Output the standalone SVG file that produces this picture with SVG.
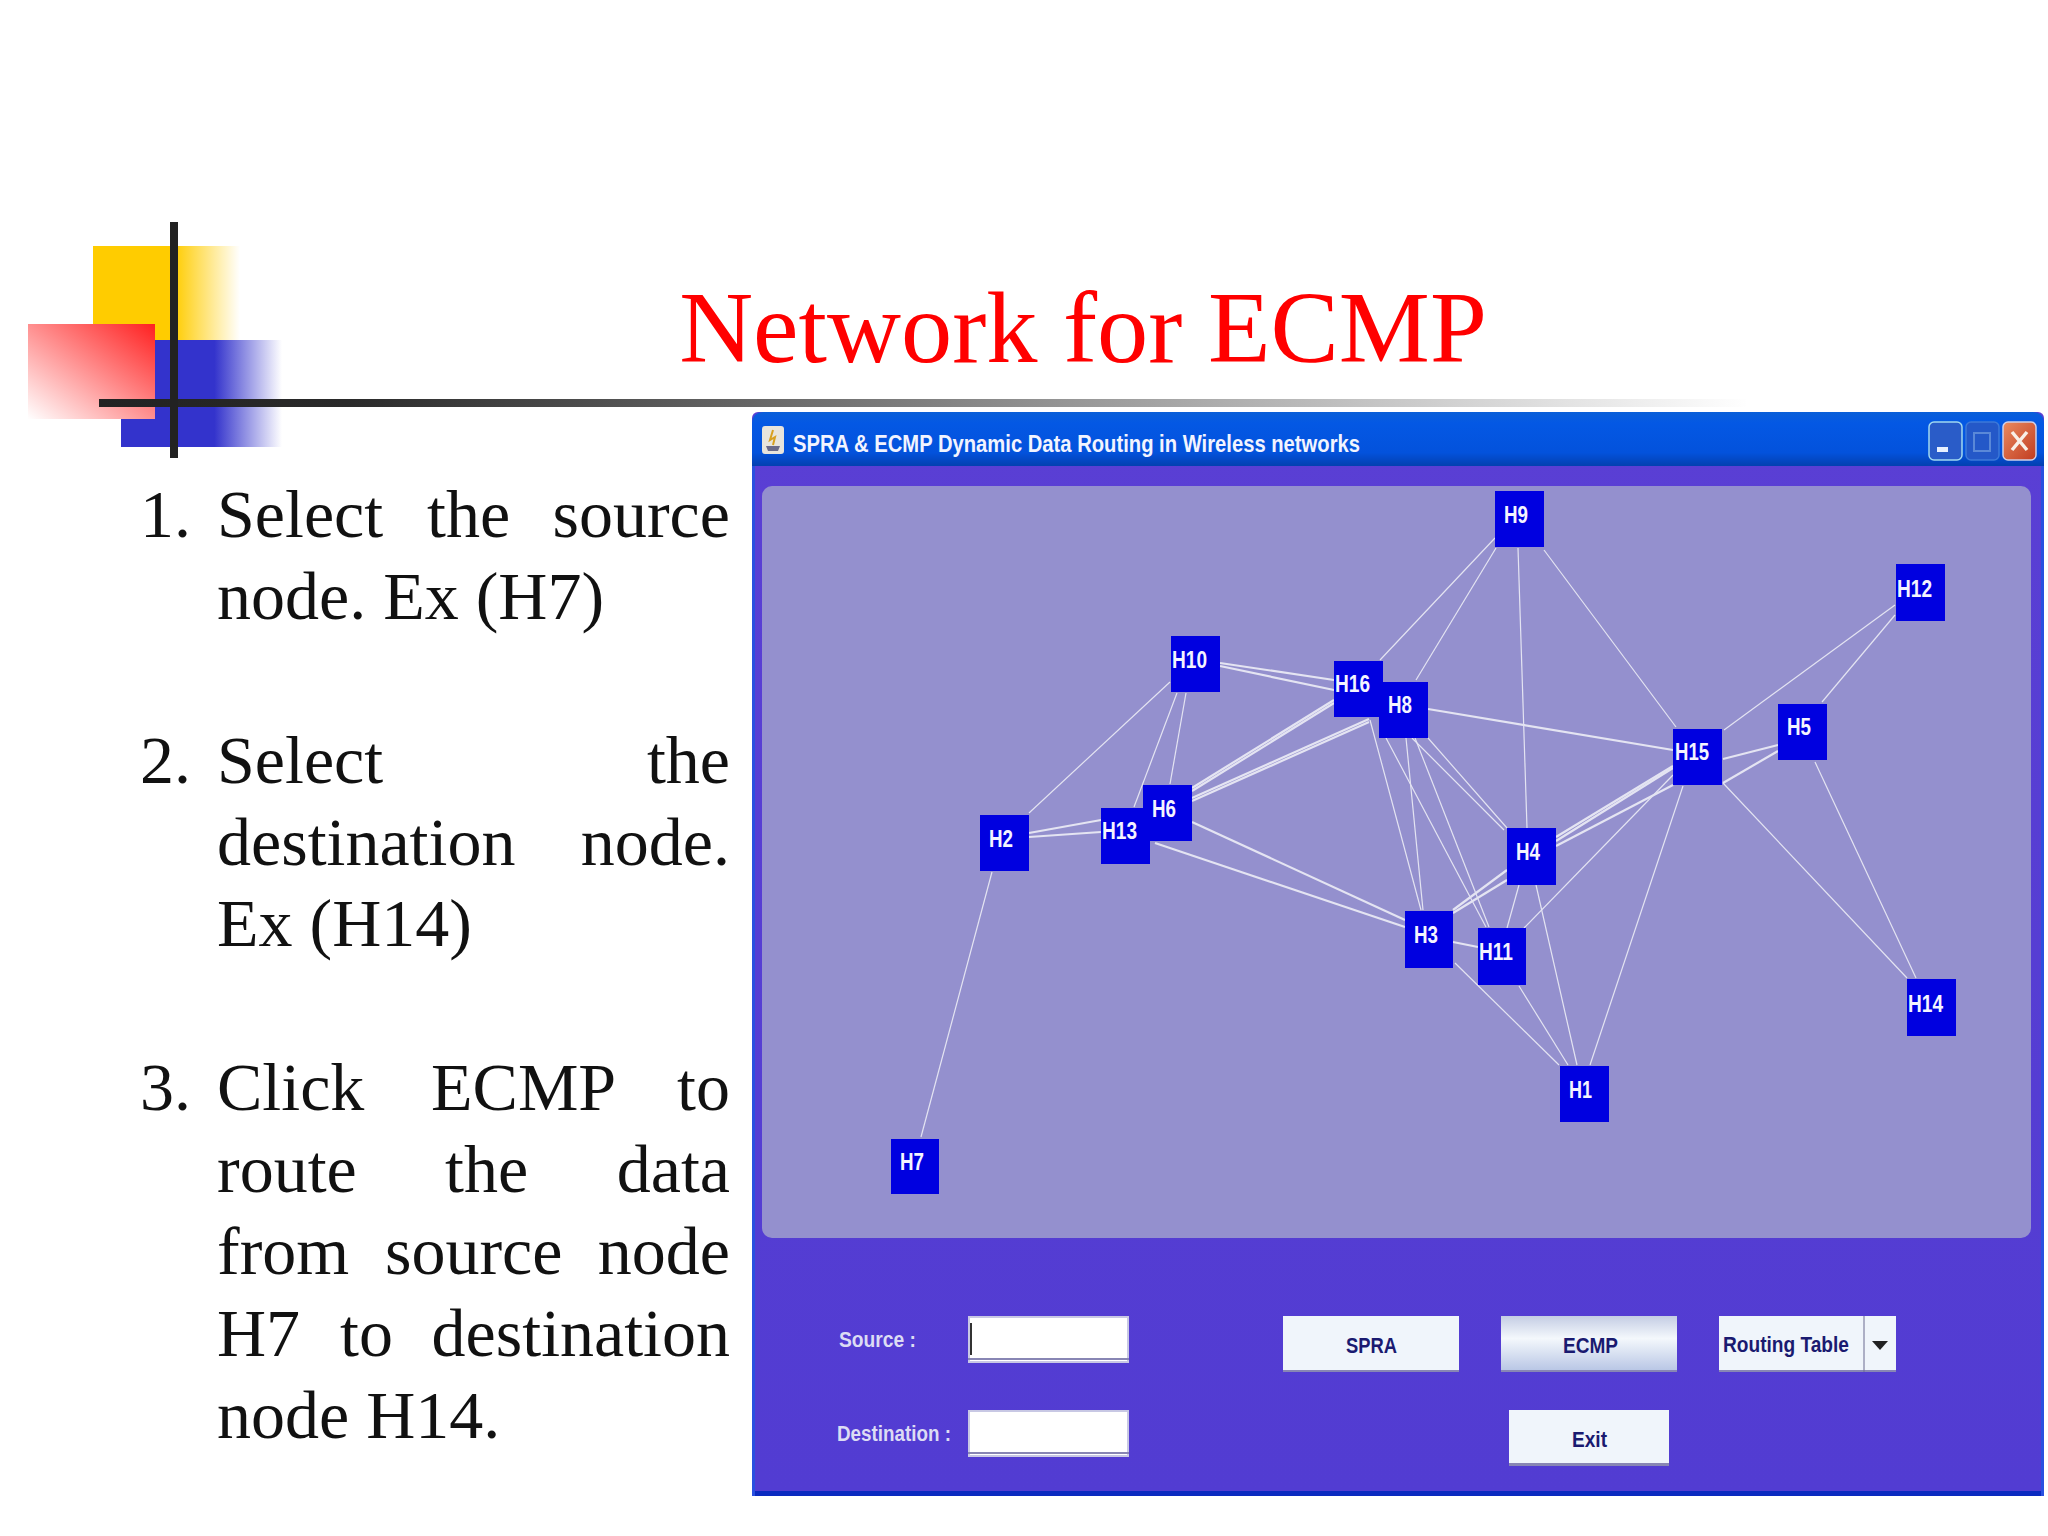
<svg xmlns="http://www.w3.org/2000/svg" width="2048" height="1536" viewBox="0 0 2048 1536">
<style>
.b{font-family:"Liberation Serif",serif;font-size:68px;fill:#111}
.n{fill:#0000e0}
.nt{font-family:"Liberation Sans",sans-serif;font-weight:bold;font-size:23px;fill:#f4f4ff}
.e line{stroke:#e4e4f2;stroke-width:1.2}
.e .w{stroke-width:2.2}
.ui{font-family:"Liberation Sans",sans-serif;font-weight:bold;font-size:22px}
.btn{fill:#f0f5fb}
.sh{fill:#8886b4}
.inp{fill:#fff;stroke:#c8c8e4;stroke-width:2}
</style>
<defs>
<linearGradient id="gy" x1="0" x2="1" y1="0" y2="0"><stop offset="0" stop-color="#ffcc00"/><stop offset="0.55" stop-color="#ffcc00"/><stop offset="1" stop-color="#ffcc00" stop-opacity="0"/></linearGradient>
<linearGradient id="gb" x1="0" x2="1" y1="0" y2="0"><stop offset="0" stop-color="#3333cc"/><stop offset="0.58" stop-color="#3333cc"/><stop offset="1" stop-color="#3333cc" stop-opacity="0"/></linearGradient>
<linearGradient id="gr" x1="1" x2="0" y1="0" y2="1"><stop offset="0" stop-color="#ff2020"/><stop offset="1" stop-color="#ffffff"/></linearGradient>
<linearGradient id="gl" x1="0" x2="1" y1="0" y2="0"><stop offset="0" stop-color="#222"/><stop offset="0.15" stop-color="#2a2a2a"/><stop offset="1" stop-color="#222" stop-opacity="0"/></linearGradient>
<linearGradient id="gt" x1="0" x2="0" y1="0" y2="1"><stop offset="0" stop-color="#0a5fd8"/><stop offset="0.2" stop-color="#0458e4"/><stop offset="0.75" stop-color="#0352dc"/><stop offset="1" stop-color="#0340b0"/></linearGradient>
<linearGradient id="gw" x1="0" x2="0" y1="0" y2="1"><stop offset="0" stop-color="#5a3fd4"/><stop offset="1" stop-color="#523cd2"/></linearGradient>
<linearGradient id="ge" x1="0" x2="0" y1="0" y2="1"><stop offset="0" stop-color="#c4cde4"/><stop offset="0.4" stop-color="#f4f8fc"/><stop offset="1" stop-color="#b6c4e4"/></linearGradient>
<linearGradient id="gc" x1="0" x2="1" y1="0" y2="1"><stop offset="0" stop-color="#e88a60"/><stop offset="1" stop-color="#c23c20"/></linearGradient>
</defs>
<rect width="2048" height="1536" fill="#fff"/>
<rect x="93" y="246" width="147" height="94" fill="url(#gy)"/>
<rect x="121" y="340" width="161" height="107" fill="url(#gb)"/>
<rect x="28" y="324" width="127" height="95" fill="url(#gr)"/>
<rect x="99" y="399" width="1650" height="8" fill="url(#gl)"/>
<rect x="170" y="222" width="8" height="236" fill="#222"/>
<text x="1083" y="362" text-anchor="middle" font-family="'Liberation Serif',serif" font-size="102.4" fill="#ff0000">Network for ECMP</text>
<g class="b">
<text x="140" y="537">1.</text><text x="217" y="537">Select</text><text x="427" y="537">the</text><text x="730" y="537" text-anchor="end">source</text>
<text x="217" y="619">node. Ex (H7)</text>
<text x="140" y="783">2.</text><text x="217" y="783">Select</text><text x="730" y="783" text-anchor="end">the</text>
<text x="217" y="865">destination</text><text x="730" y="865" text-anchor="end">node.</text>
<text x="217" y="946">Ex (H14)</text>
<text x="140" y="1110">3.</text><text x="217" y="1110">Click</text><text x="431" y="1110">ECMP</text><text x="730" y="1110" text-anchor="end">to</text>
<text x="217" y="1192">route</text><text x="445" y="1192">the</text><text x="730" y="1192" text-anchor="end">data</text>
<text x="217" y="1274">from</text><text x="385" y="1274">source</text><text x="730" y="1274" text-anchor="end">node</text>
<text x="217" y="1356">H7</text><text x="340" y="1356">to</text><text x="730" y="1356" text-anchor="end">destination</text>
<text x="217" y="1438">node H14.</text>
</g>
<g id="window">
<rect x="752" y="412" width="1292" height="1084" rx="6" fill="url(#gw)"/>
<path d="M752 466V424q0-12 12-12H2032q12 0 12 12V466Z" fill="url(#gt)"/>
<rect x="752" y="1491" width="1292" height="5" fill="#0a2ac0"/>
<rect x="752" y="466" width="3" height="1030" fill="#2a50e0"/>
<rect x="2041" y="466" width="3" height="1030" fill="#2a50e0"/>
<rect x="762" y="486" width="1269" height="752" rx="10" fill="#9490ce"/>
<rect x="762" y="426" width="22" height="28" rx="3" fill="#e8e4dc"/>
<path d="M773 430l-3 10 5-3-2 8" fill="none" stroke="#d8a020" stroke-width="2"/>
<path d="M766 446h14l-2 5h-10Z" fill="#6a6a8a"/>
<text x="793" y="452" textLength="567" lengthAdjust="spacingAndGlyphs" font-family="'Liberation Sans',sans-serif" font-weight="bold" font-size="24" fill="#f2f4ff">SPRA &amp; ECMP Dynamic Data Routing in Wireless networks</text>
<rect x="1929" y="422" width="33" height="38" rx="5" fill="#2a5cc8" stroke="#a0d8f0" stroke-width="1.5"/>
<rect x="1937" y="447" width="11" height="5" fill="#e8f0ff"/>
<rect x="1966" y="422" width="33" height="38" rx="5" fill="#2458c8" stroke="#3c78d8" stroke-width="1.5"/>
<rect x="1974" y="433" width="16" height="18" fill="none" stroke="#5a88d8" stroke-width="2"/>
<rect x="2003" y="422" width="33" height="38" rx="5" fill="url(#gc)" stroke="#d0d0e8" stroke-width="1.5"/>
<path d="M2012 432l15 18M2027 432l-15 18" stroke="#f8f0e8" stroke-width="3.5"/>
</g>
<g id="connectors" class="e">
<line x1="1029" y1="813" x2="1170" y2="682"/>
<line x1="1177" y1="693" x2="1134" y2="807"/>
<line x1="1186" y1="693" x2="1170" y2="784"/>
<line class="w" x1="1220" y1="663" x2="1334" y2="680"/>
<line class="w" x1="1220" y1="666" x2="1334" y2="690"/>
<line class="w" x1="1334" y1="700" x2="1192" y2="788"/>
<line class="w" x1="1334" y1="703" x2="1192" y2="791"/>
<line class="w" x1="1369" y1="719" x2="1192" y2="798"/>
<line class="w" x1="1369" y1="722" x2="1192" y2="801"/>
<line class="w" x1="1029" y1="833" x2="1101" y2="820"/>
<line class="w" x1="1029" y1="837" x2="1101" y2="832"/>
<line x1="992" y1="872" x2="921" y2="1137"/>
<line class="w" x1="1192" y1="822" x2="1405" y2="920"/>
<line class="w" x1="1155" y1="843" x2="1405" y2="927"/>
<line x1="1495" y1="538" x2="1380" y2="660"/>
<line x1="1496" y1="548" x2="1416" y2="680"/>
<line class="w" x1="1428" y1="709" x2="1673" y2="750"/>
<line x1="1518" y1="548" x2="1527" y2="828"/>
<line x1="1544" y1="550" x2="1676" y2="727"/>
<line x1="1724" y1="730" x2="1895" y2="605"/>
<line x1="1822" y1="702" x2="1895" y2="615"/>
<line class="w" x1="1723" y1="759" x2="1778" y2="745"/>
<line class="w" x1="1723" y1="783" x2="1778" y2="751"/>
<line class="w" x1="1673" y1="766" x2="1556" y2="837"/>
<line class="w" x1="1673" y1="768" x2="1556" y2="841"/>
<line class="w" x1="1673" y1="785" x2="1556" y2="846"/>
<line x1="1673" y1="775" x2="1524" y2="928"/>
<line x1="1683" y1="786" x2="1590" y2="1065"/>
<line x1="1723" y1="783" x2="1907" y2="978"/>
<line x1="1815" y1="762" x2="1916" y2="978"/>
<line x1="1428" y1="738" x2="1507" y2="828"/>
<line x1="1412" y1="738" x2="1504" y2="830"/>
<line x1="1415" y1="738" x2="1489" y2="927"/>
<line x1="1386" y1="738" x2="1486" y2="927"/>
<line x1="1370" y1="720" x2="1421" y2="910"/>
<line x1="1406" y1="738" x2="1423" y2="910"/>
<line class="w" x1="1507" y1="870" x2="1453" y2="910"/>
<line class="w" x1="1507" y1="880" x2="1453" y2="913"/>
<line x1="1519" y1="885" x2="1507" y2="928"/>
<line x1="1536" y1="885" x2="1577" y2="1065"/>
<line class="w" x1="1453" y1="942" x2="1478" y2="947"/>
<line x1="1455" y1="963" x2="1559" y2="1065"/>
<line x1="1519" y1="986" x2="1568" y2="1065"/>
</g>
<g id="H9"><rect class="n" x="1495" y="491" width="49" height="56"/><text class="nt" x="1504" y="523" textLength="24" lengthAdjust="spacingAndGlyphs">H9</text></g>
<g id="H12"><rect class="n" x="1896" y="564" width="49" height="57"/><text class="nt" x="1897" y="597" textLength="35" lengthAdjust="spacingAndGlyphs">H12</text></g>
<g id="H10"><rect class="n" x="1171" y="636" width="49" height="56"/><text class="nt" x="1172" y="668" textLength="35" lengthAdjust="spacingAndGlyphs">H10</text></g>
<g id="H16"><rect class="n" x="1334" y="661" width="49" height="56"/><text class="nt" x="1335" y="692" textLength="35" lengthAdjust="spacingAndGlyphs">H16</text></g>
<g id="H8"><rect class="n" x="1379" y="682" width="49" height="56"/><text class="nt" x="1388" y="713" textLength="24" lengthAdjust="spacingAndGlyphs">H8</text></g>
<g id="H5"><rect class="n" x="1778" y="704" width="49" height="56"/><text class="nt" x="1787" y="735" textLength="24" lengthAdjust="spacingAndGlyphs">H5</text></g>
<g id="H15"><rect class="n" x="1673" y="729" width="49" height="56"/><text class="nt" x="1675" y="760" textLength="34" lengthAdjust="spacingAndGlyphs">H15</text></g>
<g id="H6"><rect class="n" x="1143" y="785" width="49" height="56"/><text class="nt" x="1152" y="817" textLength="24" lengthAdjust="spacingAndGlyphs">H6</text></g>
<g id="H13"><rect class="n" x="1101" y="808" width="49" height="56"/><text class="nt" x="1102" y="839" textLength="35" lengthAdjust="spacingAndGlyphs">H13</text></g>
<g id="H2"><rect class="n" x="980" y="815" width="49" height="56"/><text class="nt" x="989" y="847" textLength="24" lengthAdjust="spacingAndGlyphs">H2</text></g>
<g id="H4"><rect class="n" x="1507" y="828" width="49" height="57"/><text class="nt" x="1516" y="860" textLength="24" lengthAdjust="spacingAndGlyphs">H4</text></g>
<g id="H3"><rect class="n" x="1405" y="911" width="48" height="57"/><text class="nt" x="1414" y="943" textLength="24" lengthAdjust="spacingAndGlyphs">H3</text></g>
<g id="H11"><rect class="n" x="1478" y="928" width="48" height="57"/><text class="nt" x="1479" y="960" textLength="34" lengthAdjust="spacingAndGlyphs">H11</text></g>
<g id="H14"><rect class="n" x="1907" y="979" width="49" height="57"/><text class="nt" x="1908" y="1012" textLength="35" lengthAdjust="spacingAndGlyphs">H14</text></g>
<g id="H1"><rect class="n" x="1560" y="1066" width="49" height="56"/><text class="nt" x="1569" y="1098" textLength="23" lengthAdjust="spacingAndGlyphs">H1</text></g>
<g id="H7"><rect class="n" x="891" y="1139" width="48" height="55"/><text class="nt" x="900" y="1170" textLength="24" lengthAdjust="spacingAndGlyphs">H7</text></g>
<g id="controls">
<text class="ui" x="839" y="1347" fill="#dcdcf4" textLength="77" lengthAdjust="spacingAndGlyphs">Source :</text>
<text class="ui" x="837" y="1441" fill="#dcdcf4" textLength="114" lengthAdjust="spacingAndGlyphs">Destination :</text>
<rect class="inp" x="969" y="1317" width="159" height="45"/><rect x="970" y="1323" width="2" height="32" fill="#333"/>
<rect class="sh" x="968" y="1358" width="161" height="2"/>
<rect class="inp" x="969" y="1411" width="159" height="45"/>
<rect class="sh" x="968" y="1452" width="161" height="2"/>
<rect class="btn" x="1283" y="1316" width="176" height="56"/><rect class="sh" x="1283" y="1370" width="176" height="2"/>
<text class="ui" x="1346" y="1353" fill="#1a1a70" textLength="51" lengthAdjust="spacingAndGlyphs">SPRA</text>
<rect x="1501" y="1316" width="176" height="56" fill="url(#ge)"/><rect class="sh" x="1501" y="1370" width="176" height="2"/>
<text class="ui" x="1563" y="1353" fill="#1a1a70" textLength="55" lengthAdjust="spacingAndGlyphs">ECMP</text>
<rect class="btn" x="1719" y="1316" width="177" height="56"/><rect class="sh" x="1719" y="1370" width="177" height="2"/>
<line x1="1864" y1="1316" x2="1864" y2="1372" stroke="#6a6a90"/>
<text class="ui" x="1723" y="1352" fill="#1a1a70" textLength="126" lengthAdjust="spacingAndGlyphs">Routing Table</text>
<path d="M1872 1341h16l-8 9Z" fill="#222"/>
<rect class="btn" x="1509" y="1410" width="160" height="56"/><rect class="sh" x="1509" y="1463" width="160" height="3"/>
<text class="ui" x="1572" y="1447" fill="#1a1a70" textLength="35" lengthAdjust="spacingAndGlyphs">Exit</text>
</g>
</svg>
